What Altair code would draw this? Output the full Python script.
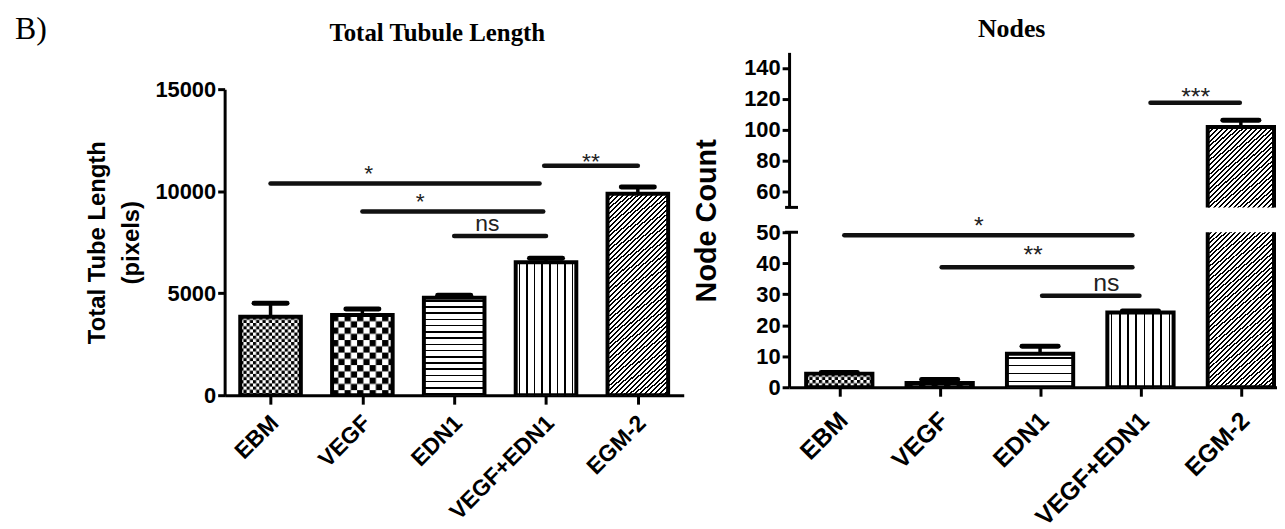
import json
import urllib.parse
import altair as alt
import pandas as pd

# ---------------- data ----------------
categories = ["EBM", "VEGF", "EDN1", "VEGF+EDN1", "EGM-2"]

tube_mean = [3850, 3930, 4780, 6520, 9870]
tube_sem = [660, 290, 120, 190, 330]

node_mean = [4.4, 1.4, 10.8, 24.1, 101.9]
node_sem = [0.4, 1.1, 2.4, 0.5, 4.3]

tube_sig_from = [0.0, 1.0, 2.0, 2.98]
tube_sig_to = [2.93, 2.97, 3.0, 4.0]
tube_sig_y = [10380, 9000, 7800, 11250]
tube_sig_text = ["*", "*", "ns", "**"]
tube_sig_text_x = [1.07, 1.63, 2.36, 3.49]
tube_sig_text_y = [10500, 9140, 8050, 11090]

node_sig_from = [0.05, 1.02, 2.02, 3.1]
node_sig_to = [2.92, 2.92, 2.99, 3.99]
node_sig_y = [49.0, 38.7, 29.5, 117.5]
node_sig_text = ["*", "**", "ns", "***"]
node_sig_text_x = [1.39, 1.93, 2.66, 3.55]
node_sig_text_y = [49.3, 40.0, 31.1, 116.3]

tube_ticks = [0, 5000, 10000, 15000]
node_upper_ticks = [60, 80, 100, 120, 140]
node_lower_ticks = [0, 10, 20, 30, 40, 50]

# ---------------- styling ----------------
SANS = "Liberation Sans"
SERIF = "Liberation Serif"
INK = "#000000"
HALF = 0.33      # half bar width (category units)
CAP = 0.18       # half error-cap width


def stripe_stops(periods, duty, dark=INK, light="#ffffff"):
    stops = []
    i = 0
    while i < periods:
        pts = [(i, light), (i + 0.5 - duty / 2, light), (i + 0.5 - duty / 2, dark),
               (i + 0.5 + duty / 2, dark), (i + 0.5 + duty / 2, light), (i + 1, light)]
        for p, c in pts:
            stops.append(alt.GradientStop(offset=round(min(p / periods, 1.0), 5), color=c))
        i += 1
    return stops


def lin(stops, x2, y2):
    return alt.LinearGradient(gradient="linear", stops=stops, x1=0, y1=0, x2=x2, y2=y2)


def checker_url(w, h, cell):
    c2 = 2 * cell
    svg = ("<svg xmlns='http://www.w3.org/2000/svg' width='%.1f' height='%.1f'>"
           "<defs><pattern id='p' width='%s' height='%s' patternUnits='userSpaceOnUse'>"
           "<rect width='%s' height='%s' fill='#fff'/>"
           "<rect width='%s' height='%s' fill='#000'/>"
           "<rect x='%s' y='%s' width='%s' height='%s' fill='#000'/></pattern></defs>"
           "<rect width='100%%' height='100%%' fill='url(#p)'/></svg>") % (
        w, h, c2, c2, c2, c2, cell, cell, cell, cell, cell, cell)
    return "data:image/svg+xml;charset=utf-8," + urllib.parse.quote(svg)


def stripe_fill(cat, w, h, hline_period, hline_duty):
    if cat == "EDN1":
        return lin(stripe_stops(max(h / hline_period, 1), hline_duty), 0, 1)
    if cat == "VEGF+EDN1":
        return lin(stripe_stops(8, 0.2), 1, 0)
    r = h / w
    k = (1 + r) / (1 + r * r)
    n = w * (1 + r) / 4.6
    return lin(stripe_stops(n, 0.42), k, k * r)


CHECKER_CELL = {"EBM": 3.2, "VEGF": 6.3}


def x_axis(size, pad):
    return alt.Axis(values=[0, 1, 2, 3, 4], title=None, grid=False,
                    labelExpr=json.dumps(categories) + "[datum.value]",
                    labelAngle=315, labelAlign="right", labelBaseline="middle",
                    labelFont=SANS, labelFontWeight="bold", labelFontSize=size,
                    labelColor=INK, labelPadding=pad, labelOffset=4, labelFlush=False,
                    labelOverlap=False, labelBound=False,
                    domainColor=INK, domainWidth=3, tickColor=INK, tickWidth=3, tickSize=9)


def y_axis(values, label_size, **title_kw):
    return alt.Axis(values=values, format="d", grid=False,
                    labelFont=SANS, labelFontWeight="bold", labelFontSize=label_size,
                    labelColor=INK, labelPadding=2, labelOverlap=False, labelFlush=False,
                    domainColor=INK, domainWidth=3, tickColor=INK, tickWidth=3, tickSize=7,
                    titleFont=SANS, titleFontWeight="bold", titleColor=INK,
                    titleAngle=270, titleAlign="center", titleBaseline="middle",
                    **title_kw)


def panel(means, sems, sig, x_dom, y_dom, width, height, plot_h, xaxis, yaxis,
          hline_period, hline_duty, sig_size, brk=False, extra=()):
    px_x = width / (x_dom[1] - x_dom[0])
    px_y = plot_h / (y_dom[1] - y_dom[0])
    df = pd.DataFrame({
        "cat": categories,
        "idx": list(range(len(categories))),
        "mean": means,
        "top": [m + s for m, s in zip(means, sems)],
    })
    df["base"] = 0
    df["x0"] = df["idx"] - HALF
    df["x1"] = df["idx"] + HALF
    df["c0"] = df["idx"] - CAP
    df["c1"] = df["idx"] + CAP
    w_full = 2 * HALF * px_x
    df["url"] = [checker_url(w_full, max(m * px_y, 1), CHECKER_CELL[c]) if c in CHECKER_CELL else ""
                 for c, m in zip(categories, means)]

    xs = alt.Scale(domain=list(x_dom), nice=False, zero=False)
    ys = alt.Scale(domain=list(y_dom), nice=False, zero=False, range=[height, height - plot_h])

    def X(f):
        return alt.X(f + ":Q", scale=xs, axis=xaxis)

    def Y(f):
        return alt.Y(f + ":Q", scale=ys, axis=yaxis)

    base = alt.Chart(df)
    layers = []
    for i, cat in enumerate(categories):
        sub = base.transform_filter(alt.datum.cat == cat)
        if cat in CHECKER_CELL:
            layers.append(sub.mark_image(aspect=False, clip=True).encode(
                x=X("x0"), x2=alt.X2("x1"), y=Y("mean"), y2=alt.Y2("base"), url="url:N"))
        else:
            fill = stripe_fill(cat, w_full - 4, max(means[i] * px_y - 4, 1), hline_period, hline_duty)
            layers.append(sub.mark_rect(fill=fill, clip=True).encode(
                x=X("x0"), x2=alt.X2("x1"), y=Y("mean"), y2=alt.Y2("base")))
    layers.append(base.mark_rect(fill="transparent", stroke=INK, strokeWidth=4, clip=True).encode(
        x=X("x0"), x2=alt.X2("x1"), y=Y("mean"), y2=alt.Y2("base")))
    layers.append(base.mark_rule(color=INK, strokeWidth=3.5, clip=True).encode(
        x=X("idx"), y=Y("mean"), y2=alt.Y2("top")))
    layers.append(base.mark_rule(color=INK, strokeWidth=5, strokeCap="round", clip=True).encode(
        x=X("c0"), x2=alt.X2("c1"), y=Y("top")))

    if len(sig):
        sdf = pd.DataFrame(sig, columns=["from", "to", "y", "label", "tx", "ty"])
        layers.append(alt.Chart(sdf).mark_rule(color="#111111", strokeWidth=4.5, strokeCap="round").encode(
            x=X("from"), x2=alt.X2("to"), y=Y("y")))
        layers.append(alt.Chart(sdf).mark_text(font=SANS, fontSize=sig_size, color="#222222",
                                               align="center", baseline="alphabetic").encode(
            x=X("tx"), y=Y("ty"), text="label:N"))
    if brk:
        bdf = pd.DataFrame({"v": [50]})
        layers.append(alt.Chart(bdf).mark_rule(color=INK, strokeWidth=3).encode(
            x=alt.value(-4), x2=alt.value(9), y=Y("v")))
    layers.extend(extra)
    return alt.layer(*layers).properties(width=width, height=height)


def label(text, font, size, weight, x, y, align="center"):
    return alt.Chart(pd.DataFrame({"t": [text]})).mark_text(
        font=font, fontSize=size, fontWeight=weight, color=INK, align=align,
        baseline="alphabetic").encode(text="t:N", x=alt.value(x), y=alt.value(y))


# ---------------- left chart ----------------
tube_sig = list(zip(tube_sig_from, tube_sig_to, tube_sig_y, tube_sig_text,
                    tube_sig_text_x, tube_sig_text_y))
left = panel(
    tube_mean, tube_sem, tube_sig, (-0.5, 4.5), (0, 15000), 462, 345, 308,
    x_axis(23, 15),
    y_axis(tube_ticks, 22, title=["Total Tube  Length", "(pixels)"], titleFontSize=24,
           titleLineHeight=34, titleX=-128, titleY=191),
    hline_period=6.0, hline_duty=0.25, sig_size=23,
    extra=[label("B)", SERIF, 32, "normal", -211, -13, align="left"),
           label("Total Tubule Length", SERIF, 25, "bold", 214, -11)],
)

# ---------------- right chart (broken axis) ----------------
node_sig = list(zip(node_sig_from, node_sig_to, node_sig_y, node_sig_text,
                    node_sig_text_x, node_sig_text_y))
upper_sig = [s for s in node_sig if s[2] > 50]
lower_sig = [s for s in node_sig if s[2] <= 50]

R_DOM = (-0.5, 4.36)
R_W = 491

upper = panel(
    node_mean, node_sem, upper_sig, R_DOM, (50, 150), R_W, 156, 156,
    None,
    y_axis(node_upper_ticks, 22, title=None),
    hline_period=7.0, hline_duty=0.2, sig_size=25, brk=True,
    extra=[label("Nodes", SERIF, 26, "bold", 224, -15)],
)
lower = panel(
    node_mean, node_sem, lower_sig, R_DOM, (0, 50), R_W, 156, 156,
    x_axis(25, 20),
    y_axis(node_lower_ticks, 22, title="Node Count", titleFontSize=29,
           titleX=-83, titleY=-12),
    hline_period=7.0, hline_duty=0.2, sig_size=25, brk=True,
)
right = alt.vconcat(upper, lower, spacing=25, bounds="flush")

chart = alt.hconcat(left, right, spacing=8).properties(
    padding={"left": 7, "top": 4, "right": 0, "bottom": 0},
    background="white",
).configure_view(stroke=None)

chart.save("out.html", embed_options={"renderer": "svg", "actions": False})
